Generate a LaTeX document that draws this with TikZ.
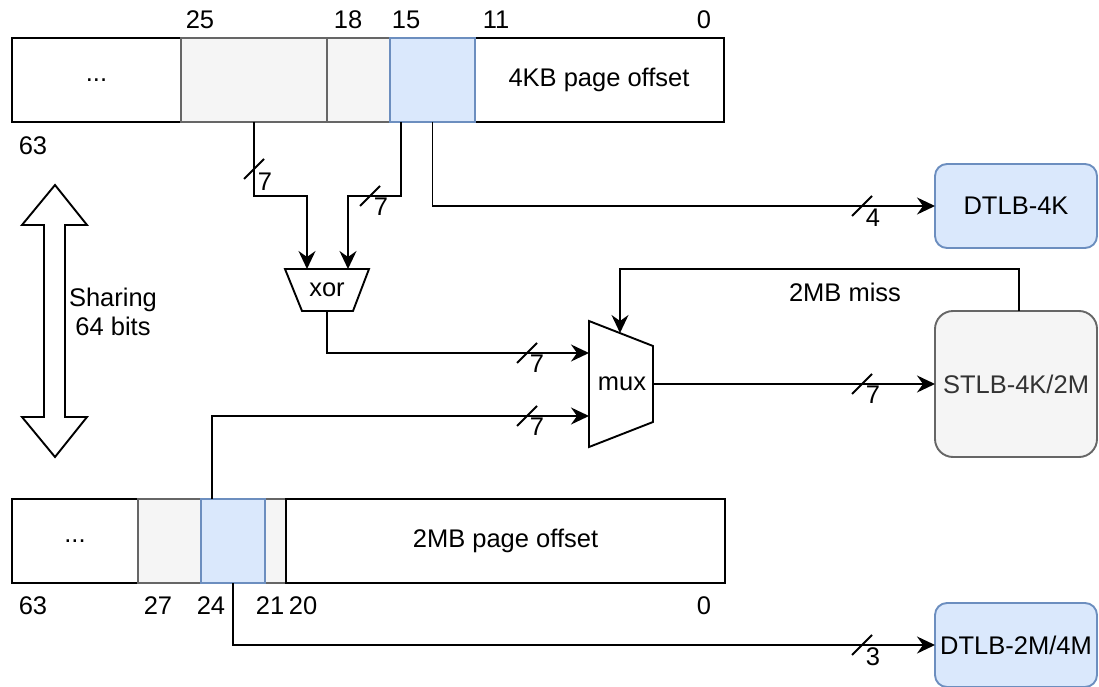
\documentclass[tikz,border=0pt]{standalone}
\usepackage{fontspec}
\setmainfont{Liberation Sans}
\usetikzlibrary{arrows.meta,calc}
\definecolor{bluefill}{HTML}{DAE8FC}
\definecolor{bluedraw}{HTML}{6C8EBF}
\definecolor{greyfill}{HTML}{F5F5F5}
\definecolor{greydraw}{HTML}{666666}
\definecolor{darktext}{HTML}{333333}
\begin{document}
\begin{tikzpicture}[x=1pt,y=-1pt,
  every node/.style={font=\fontsize{25.5}{29}\selectfont, inner sep=0pt, outer sep=0pt},
  whitecell/.style={draw=black, fill=white, line width=1.9pt, minimum height=84pt},
  greycell/.style={draw=greydraw, fill=greyfill, line width=1.9pt, minimum height=84pt},
  bluecell/.style={draw=bluedraw, fill=bluefill, line width=1.9pt, minimum height=84pt},
  wire/.style={line width=1.9pt, draw=black},
  arr/.style={wire, -{Stealth[length=18pt,width=17pt,inset=6pt]}},
  slashmark/.style={line width=1.9pt},
  tlbblue/.style={draw=bluedraw, fill=bluefill, line width=1.9pt, rounded corners=12pt, minimum width=162pt},
  tlbgrey/.style={draw=greydraw, fill=greyfill, line width=1.9pt, rounded corners=18pt, text=darktext, minimum width=162pt},
]
\useasboundingbox (0,0) rectangle (1099,687);

% top register
\node[whitecell, minimum width=169pt] (t1) at (96.5,80) {...};
\node[greycell, minimum width=146pt] (t2) at (254,80) {};
\node[greycell, minimum width=63pt] (t3) at (358.5,80) {};
\node[whitecell, minimum width=250pt] (t5) at (599,80) {4KB page offset};
\node[bluecell, minimum width=85pt] (t4) at (432.5,80) {};

\node (n25) at (200,20) {25};
\node (n18) at (348,20) {18};
\node (n15) at (406,20) {15};
\node (n11) at (496,20) {11};
\node (n0a) at (704,20) {0};
\node (n63a) at (33,146) {63};

% bottom register
\node[whitecell, minimum width=126pt] (b1) at (75,541) {...};
\node[greycell, minimum width=148pt] (b2) at (212,541) {};
\node[whitecell, minimum width=439pt] (b4) at (505.5,541) {2MB page offset};
\node[bluecell, minimum width=64pt] (b3) at (233,541) {};

\node (m63) at (33,606) {63};
\node (m27) at (158,606) {27};
\node (m24) at (211,606) {24};
\node (m21) at (270,606) {21};
\node (m20) at (303,606) {20};
\node (m0) at (704,606) {0};

% xor
\draw[wire, fill=white] (285,269) -- (369,269) -- (353,311) -- (302,311) -- cycle;
\node (xor) at (327,290) {xor};
\coordinate (xorinL) at (307,269);
\coordinate (xorinR) at (348,269);
\coordinate (xorout) at (327,311);

% mux
\draw[wire, fill=white] (589,321) -- (653,346) -- (653,422) -- (589,447) -- cycle;
\node (mux) at (622,384) {mux};
\coordinate (muxinA) at (589,353);
\coordinate (muxinB) at (589,416);
\coordinate (muxout) at (653,384);
\coordinate (muxfb) at (620,333);

% TLBs
\node[tlbblue, minimum height=84pt] (dtlbA) at (1016,206) {DTLB-4K};
\node[tlbgrey, minimum height=146pt] (stlb) at (1016,384) {STLB-4K/2M};
\node[tlbblue, minimum height=84pt] (dtlbB) at (1016,645) {DTLB-2M/4M};

% connectors
\draw[arr] (t2.south) -- ++(0,74) -| (xorinL);
\draw[arr] ($(t4.south west)+(11,0)$) -- ++(0,74) -| (xorinR);
\draw[arr] (t4.south) |- (dtlbA.west);
\draw[arr] (xorout) |- (muxinA);
\draw[arr] ($(b3.north west)+(11,0)$) |- (muxinB);
\draw[arr] (muxout) -- (stlb.west);
\draw[arr] ($(stlb.north)+(3,0)$) -- ++(0,-42) -| (muxfb);
\draw[arr] (b3.south) |- (dtlbB.west);

\node (miss) at (845,292) {2MB miss};

% bus width marks
\draw[slashmark] (244,179) -- (264,159);
\node (w1) at (265,182) {7};
\draw[slashmark] (360,206) -- (380,186);
\node (w2) at (381,207) {7};
\draw[slashmark] (852,216) -- (872,196);
\node (w3) at (873,218) {4};
\draw[slashmark] (517,363) -- (537,343);
\node (w4) at (537,364) {7};
\draw[slashmark] (517,426) -- (537,406);
\node (w5) at (537,427) {7};
\draw[slashmark] (852,394) -- (872,374);
\node (w6) at (873,395) {7};
\draw[slashmark] (852,655) -- (872,635);
\node (w7) at (873,657) {3};

% sharing arrow
\draw[wire, fill=white] (55,185) -- (87,225) -- (65,225) -- (65,417) -- (87,417) -- (55,457) -- (22,417) -- (44,417) -- (44,225) -- (22,225) -- cycle;
\node[align=center] (share) at (113,312) {Sharing\\64 bits};
\end{tikzpicture}
\end{document}
